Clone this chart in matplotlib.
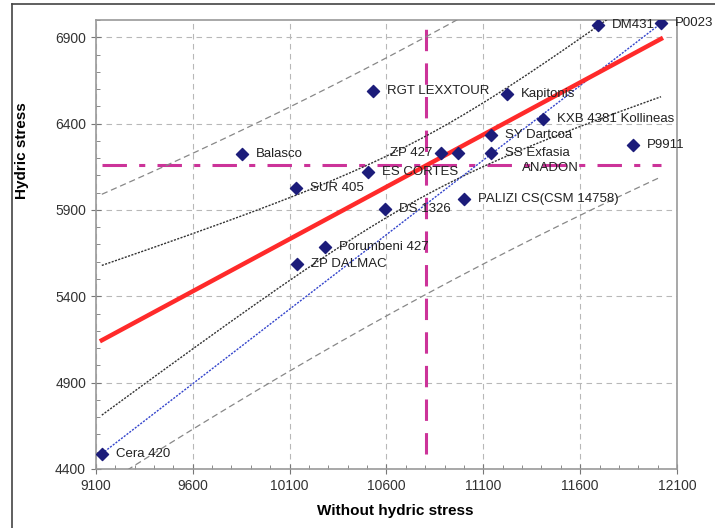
import numpy as np
import matplotlib
matplotlib.use('Agg')
import matplotlib.pyplot as plt
from matplotlib.lines import Line2D

plt.rcParams['font.family'] = ['Liberation Sans', 'DejaVu Sans']

# 品种名称与产量 (无水分胁迫 / 水分胁迫)
names = ['P0023', 'DM431', 'RGT LEXXTOUR', 'Kapitonis', 'KXB 4381 Kollineas',
         'SY Dartcoa', 'P9911', 'Balasco', 'ZP 427', 'ANADON', 'SS Exfasia',
         'ES CORTES', 'SUR 405', 'PALIZI CS(CSM 14758)', 'DS 1326',
         'Porumbeni 427', 'ZP DALMAC', 'Cera 420']
without_stress = [12017, 11692, 10530, 11222, 11408, 11139, 11872, 9854, 10881,
                  10969, 11139, 10504, 10133, 11000, 10592, 10282, 10138, 9131]
hydric_stress = [6981, 6969, 6588, 6571, 6427, 6335, 6277, 6225, 6231,
                 6231, 6231, 6121, 6029, 5965, 5907, 5688, 5584, 4488]

x_ticks = [9100, 9600, 10100, 10600, 11100, 11600, 12100]
y_ticks = [4400, 4900, 5400, 5900, 6400, 6900]

x = np.array(without_stress, dtype=float)
y = np.array(hydric_stress, dtype=float)
n = len(x)

# 线性回归 + 置信带 / 预测带
slope, intercept = np.polyfit(x, y, 1)
xx = np.linspace(x.min(), x.max(), 200)
yy = slope * xx + intercept
resid = y - (slope * x + intercept)
s = np.sqrt(np.sum(resid ** 2) / (n - 2))
sxx = np.sum((x - x.mean()) ** 2)
t_val = 2.12  # t(0.975, n-2)
conf = t_val * s * np.sqrt(1.0 / n + (xx - x.mean()) ** 2 / sxx)
pred = t_val * s * np.sqrt(1 + 1.0 / n + (xx - x.mean()) ** 2 / sxx)

fig = plt.figure(figsize=(7.15, 5.28), dpi=100)
ax = fig.add_axes([0.134, 0.112, 0.813, 0.850])

# 网格
ax.grid(True, which='major', linestyle=(0, (5, 4)), color='#b8b8b8', linewidth=0.8)
ax.set_axisbelow(True)

# 均值线
ax.plot([x.min(), x.max()], [y.mean(), y.mean()], color='#cc3399',
        linestyle=(0, (8, 4, 2, 4)), linewidth=2.2, zorder=2)
ax.plot([x.mean(), x.mean()], [y.min(), y.max() + 100], color='#cc3399',
        linestyle=(0, (7, 4)), linewidth=2.2, zorder=2)

# 预测带、置信带
ax.plot(xx, yy + pred, color='#888888', linestyle=(0, (5, 3)), linewidth=0.9, zorder=3)
ax.plot(xx, yy - pred, color='#888888', linestyle=(0, (5, 3)), linewidth=0.9, zorder=3)
ax.plot(xx, yy + conf, color='#333333', linestyle=(0, (1.5, 1)), linewidth=1.0, zorder=3)
ax.plot(xx, yy - conf, color='#333333', linestyle=(0, (1.5, 1)), linewidth=1.0, zorder=3)

# 极值连线
i_min, i_max = np.argmin(x), np.argmax(x)
ax.plot([x[i_min], x[i_max]], [y[i_min], y[i_max]], color='#3344cc',
        linestyle=(0, (1.5, 1)), linewidth=1.0, zorder=3)

# 回归线
ax.plot(xx, yy, color='#ff2a2a', linewidth=3.2, zorder=4)

# 散点
ax.scatter(x, y, marker='D', s=38, color='#1c1c7a', zorder=5)

# 数据标签
for name, a, b in zip(names, x, y):
    dx, dy, ha = 10, 0, 'left'
    if name == 'ZP 427':
        dx, ha = -6, 'right'
    if name == 'ANADON':
        dx, dy = 46, -11
    ax.annotate(name, (a, b), xytext=(dx, dy), textcoords='offset points',
                ha=ha, va='center', fontsize=9.5, color='#222222', zorder=6)

ax.set_xlim(9100, 12100)
ax.set_ylim(4400, 7000)
ax.set_xticks(x_ticks)
ax.set_yticks(y_ticks)
ax.set_xticks(np.arange(9100, 12101, 100), minor=True)
ax.set_yticks(np.arange(4400, 7001, 100), minor=True)
ax.tick_params(which='major', direction='inout', length=7, color='#777777',
               labelsize=10, labelcolor='#333333')
ax.tick_params(which='minor', direction='in', length=3, color='#777777')
for sp in ax.spines.values():
    sp.set_color('#999999')
    sp.set_linewidth(1.2)

ax.set_xlabel('Without hydric stress', fontsize=11, fontweight='bold')
ax.set_ylabel('Hydric stress', fontsize=11, fontweight='bold')
ax.xaxis.set_label_coords(0.515, -0.078)
ax.yaxis.set_label_coords(-0.115, 0.71)

# 外框
fig.add_artist(Line2D([0.017, 0.017], [0.0, 0.992], color='#444444', linewidth=1.2))
fig.add_artist(Line2D([0.017, 1.0], [0.992, 0.992], color='#444444', linewidth=1.2))

plt.savefig('out.png', dpi=100)
